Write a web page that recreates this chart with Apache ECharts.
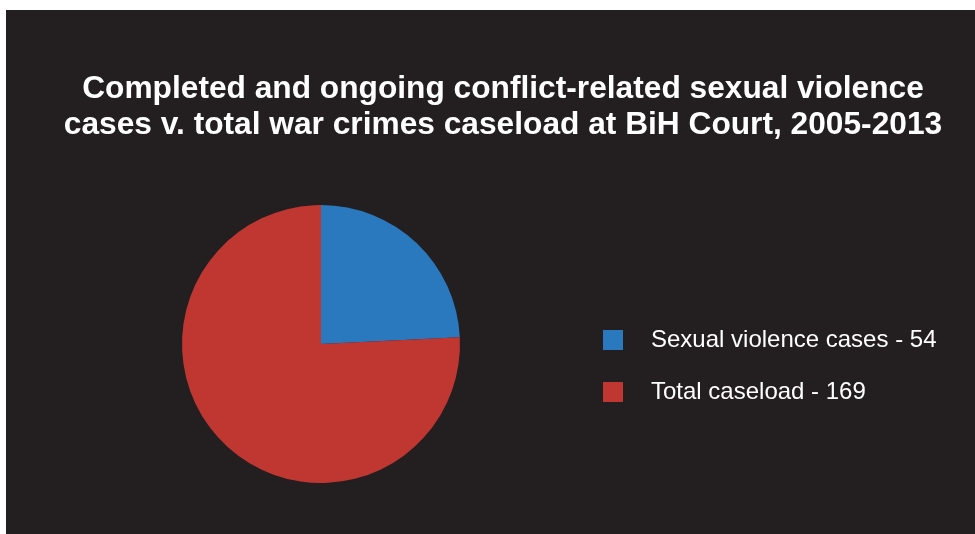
<!DOCTYPE html>
<html>
<head>
<meta charset="utf-8">
<script src="https://cdn.jsdelivr.net/npm/echarts@6/dist/echarts.min.js"></script>
<style>
html,body{margin:0;padding:0;background:#ffffff;}
#chart{position:absolute;left:6px;top:10px;width:969px;height:524px;}
</style>
</head>
<body>
<div id="chart"></div>
<script>
const titleLines = ["Completed and ongoing conflict-related sexual violence", "cases v. total war crimes caseload at BiH Court, 2005-2013"];
const categories = ["Sexual violence cases - 54", "Total caseload - 169"];
const values = [54, 169];
const colors = ["#2a78be", "#c03732"];

const chart = echarts.init(document.getElementById('chart'));
chart.setOption({
  backgroundColor: '#231f20',
  animation: false,
  title: {
    text: titleLines.join('\n'),
    left: 492,
    top: 56,
    textAlign: 'center',
    textStyle: {
      color: '#ffffff',
      fontFamily: 'Liberation Sans, Arial, sans-serif',
      fontWeight: 'bold',
      fontSize: 31.7,
      lineHeight: 36
    }
  },
  legend: {
    orient: 'vertical',
    left: 597,
    top: 318,
    padding: 0,
    itemWidth: 20,
    itemHeight: 20,
    itemGap: 28,
    icon: 'rect',
    textStyle: {
      color: '#ffffff',
      fontFamily: 'Liberation Sans, Arial, sans-serif',
      fontSize: 24,
      padding: [0, 0, 0, 23]
    },
    data: categories
  },
  series: [{
    type: 'pie',
    center: [315, 334],
    radius: 139,
    startAngle: 90,
    clockwise: true,
    label: {show: false},
    labelLine: {show: false},
    emphasis: {disabled: true},
    data: categories.map((c, i) => ({name: c, value: values[i], itemStyle: {color: colors[i]}}))
  }]
});
</script>
</body>
</html>
